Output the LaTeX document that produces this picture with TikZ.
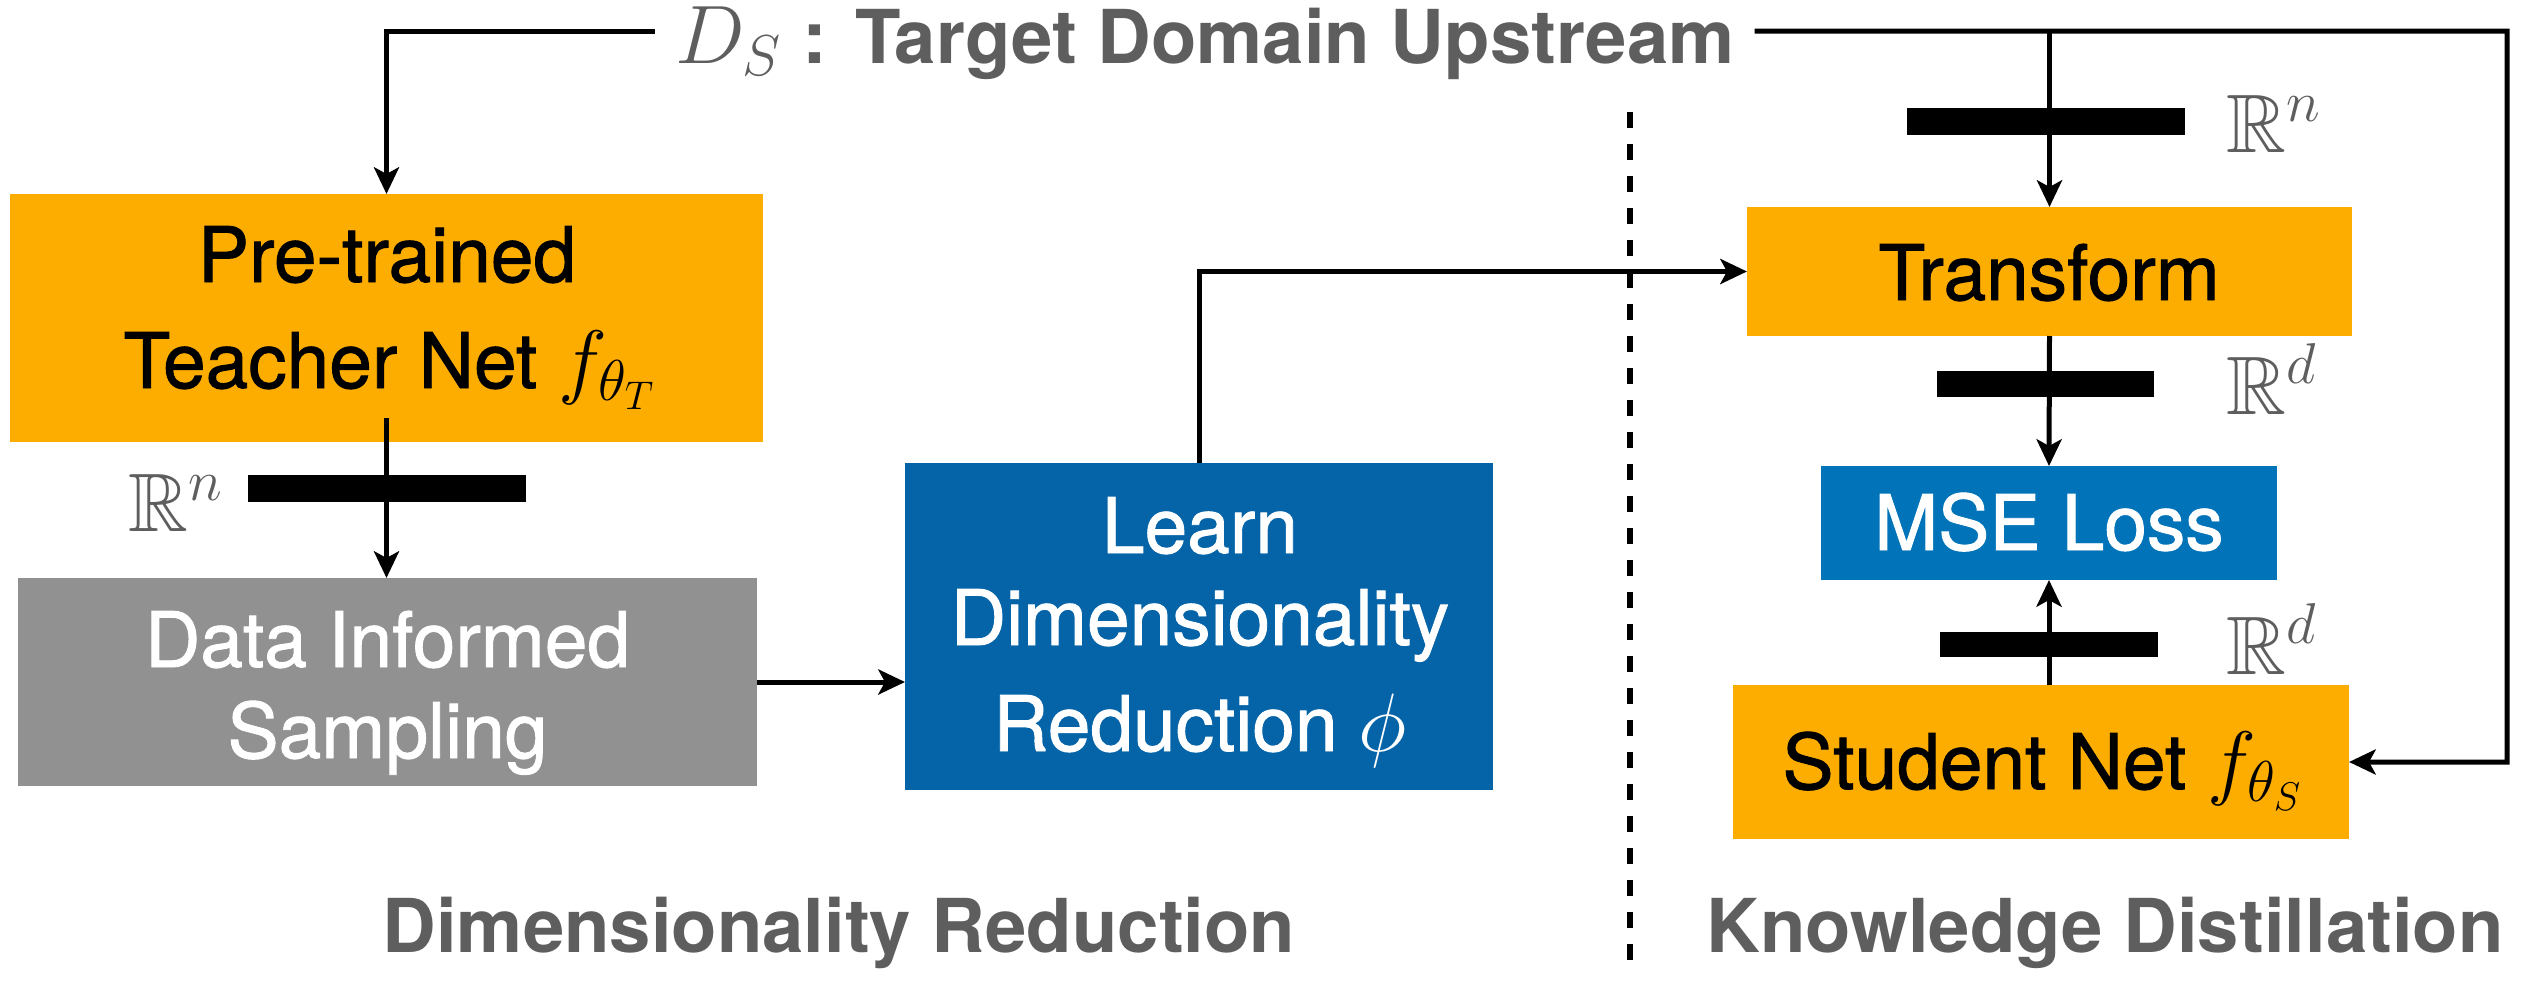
\documentclass[tikz,border=0pt]{standalone}
\usepackage{amssymb}
\usepackage{fontspec}
\setmainfont{TeX Gyre Heros}
\newfontfamily\boxfont[FakeBold=1.2]{TeX Gyre Heros}
\usetikzlibrary{arrows.meta,calc}
\DeclareMathSizes{24.88}{24.88}{17.28}{12}

\definecolor{netorange}{RGB}{252,173,0}
\definecolor{samplegray}{RGB}{145,145,145}
\definecolor{learnblue}{RGB}{5,100,168}
\definecolor{lossblue}{RGB}{0,115,185}
\definecolor{labelgray}{RGB}{94,94,94}

% math set a little larger than the surrounding text
\newcommand{\mathsz}{\fontsize{24.88}{30}\selectfont}

\begin{document}
\begin{tikzpicture}[x=0.3pt, y=-0.3pt,
  box/.style={rectangle, inner sep=0pt, outer sep=0pt},
  bar/.style={rectangle, fill=black, inner sep=0pt, outer sep=0pt},
  txt/.style={anchor=base, inner sep=0pt, font=\boxfont\fontsize{23}{27}\selectfont},
  sect/.style={anchor=base, inner sep=0pt, text=labelgray,
               font=\fontsize{22.3}{26}\selectfont\bfseries},
  rlab/.style={anchor=base west, inner sep=0pt, text=labelgray,
               font=\mathsz},
  conn/.style={line width=1.5pt},
  arr/.style={conn, -{Stealth[length=8pt, width=7.5pt, inset=2pt]}},
  divider/.style={line width=1.8pt, dash pattern=on 4.8pt off 4.8pt}]

\useasboundingbox (0,0) rectangle (2533,984);

% ---- boxes ----
\node[box, fill=netorange,  minimum width=753*0.3pt, minimum height=248*0.3pt] (teacher)   at (386.5,318)  {};
\node[box, fill=samplegray, minimum width=739*0.3pt, minimum height=208*0.3pt] (data)      at (387.5,682)  {};
\node[box, fill=learnblue,  minimum width=588*0.3pt, minimum height=327*0.3pt] (learn)     at (1199,626.5) {};
\node[box, fill=netorange,  minimum width=605*0.3pt, minimum height=129*0.3pt] (transform) at (2049.5,271.5) {};
\node[box, fill=lossblue,   minimum width=456*0.3pt, minimum height=114*0.3pt] (mse)       at (2049,523)   {};
\node[box, fill=netorange,  minimum width=616*0.3pt, minimum height=154*0.3pt] (student)   at (2041,762)   {};

% ---- box texts ----
\node[txt] (teacherA) at (387,282) {Pre-trained};
\node[txt] (teacherB) at (390,388) {Teacher Net {\mathsz$f_{\theta_T}$}};
\node[txt, text=white] (dataA) at (387.5,667) {Data Informed};
\node[txt, text=white] (dataB) at (387.5,758) {Sampling};
\node[txt, text=white] (learnA) at (1200,553) {Learn};
\node[txt, text=white] (learnB) at (1200,645) {Dimensionality};
\node[txt, text=white] (learnC) at (1200,751) {Reduction {\mathsz$\phi$}};
\node[txt] (transformT) at (2049,300) {Transform};
\node[txt, text=white] (mseT) at (2049,550) {MSE Loss};
\node[txt] (studentT) at (2043,789) {Student Net {\mathsz$f_{\theta_S}$}};

% ---- source data ----
\node[anchor=base west, inner xsep=6pt, inner ysep=0pt, outer sep=0pt,
      text height=19.2pt, text depth=0pt, text=labelgray,
      font=\fontsize{22.3}{26}\selectfont\bfseries] (ds) at (655,63)
      {{\mathsz$D_S$} : Target Domain Upstream};

% ---- connectors ----
\coordinate (corner) at (2507,31);
\draw[arr] (ds.west) -| (teacher.north);
\draw[arr] (ds.east) -- (corner) |- (student.east);
\draw[arr] (ds.east -| transform.north) -- (transform.north);
\draw[arr] ($(teacher.south)+(0,-24)$) -- (teacher.south |- data.north);
\draw[arr] (data.east) -- (data.east -| learn.west);
\draw[arr] (learn.north) |- (transform.west);
\draw[arr] (transform.south) -- (mse.north);
\draw[arr] (mse.south |- student.north) -- (mse.south);

% ---- feature bars ----
\node[bar, minimum width=278*0.3pt, minimum height=27*0.3pt] (barA) at (387,488.5)  {};
\node[bar, minimum width=278*0.3pt, minimum height=27*0.3pt] (barB) at (2046,121.5) {};
\node[bar, minimum width=217*0.3pt, minimum height=26*0.3pt] (barC) at (2045.5,384) {};
\node[bar, minimum width=218*0.3pt, minimum height=25*0.3pt] (barD) at (2049,644.5) {};

% ---- dimension labels ----
\node[rlab] (rA) at (128,531)  {$\mathbb{R}^n$};
\node[rlab] (rB) at (2226,152) {$\mathbb{R}^n$};
\node[rlab] (rC) at (2226,414) {$\mathbb{R}^d$};
\node[rlab] (rD) at (2226,674) {$\mathbb{R}^d$};

% ---- section divider and titles ----
\draw[divider] (1630,112) -- (1630,960);
\node[sect] (secA) at (839,952)  {Dimensionality Reduction};
\node[sect] (secB) at (2105,952) {Knowledge Distillation};

\end{tikzpicture}
\end{document}
